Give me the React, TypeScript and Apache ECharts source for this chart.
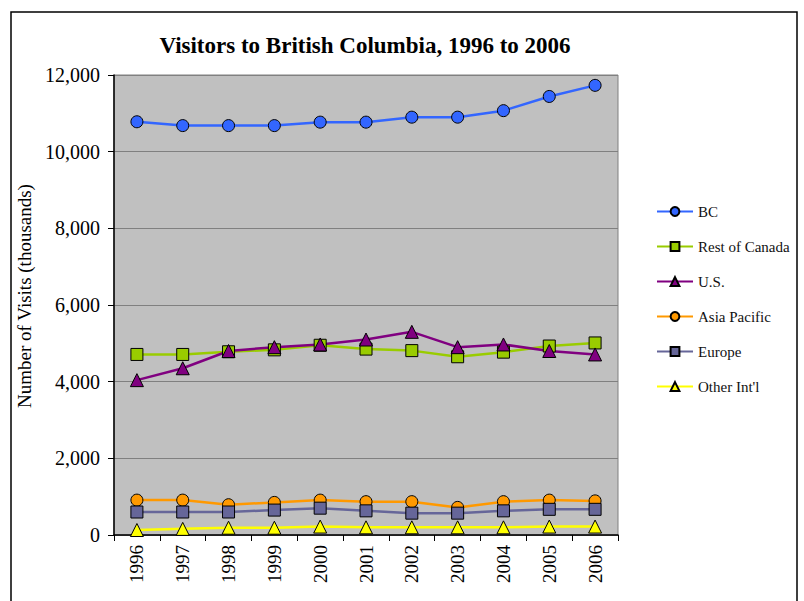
import React, { useEffect, useRef } from "react";
import * as echarts from "echarts";

const years = ["1996", "1997", "1998", "1999", "2000", "2001", "2002", "2003", "2004", "2005", "2006"];
const bc = [10780, 10680, 10680, 10680, 10770, 10770, 10900, 10900, 11070, 11440, 11730];
const restOfCanada = [4710, 4710, 4780, 4830, 4950, 4850, 4810, 4650, 4770, 4930, 5010];
const us = [4040, 4350, 4800, 4900, 4970, 5100, 5300, 4900, 4970, 4800, 4710];
const asiaPacific = [910, 910, 790, 850, 910, 870, 870, 720, 870, 910, 890];
const europe = [600, 600, 600, 650, 700, 630, 570, 570, 630, 670, 670];
const otherIntl = [130, 160, 190, 190, 220, 200, 200, 200, 200, 220, 220];

const FONT = "'Liberation Serif', 'Times New Roman', serif";

export default function App() {
  const ref = useRef<HTMLDivElement>(null);
  useEffect(() => {
    if (!ref.current) return;
    const chart = echarts.init(ref.current, undefined, { renderer: "svg" });
    const mk = (name: string, data: number[], color: string, symbol: string, size: number) => ({
      name,
      type: "line",
      data,
      symbol,
      symbolSize: size,
      showAllSymbol: true,
      lineStyle: { color, width: 2.5 },
      itemStyle: { color, borderColor: "#000", borderWidth: 1 },
      emphasis: { disabled: true },
    });
    chart.setOption({
      animation: false,
      backgroundColor: "#fff",
      title: {
        text: "Visitors to British Columbia, 1996 to 2006",
        left: 360,
        textAlign: "center",
        top: 29,
        textStyle: { fontFamily: FONT, fontWeight: "bold", fontSize: 23, color: "#000" },
      },
      graphic: [
        {
          type: "rect",
          shape: { x: 11, y: 12, width: 786, height: 640 },
          style: { fill: "none", stroke: "#000", lineWidth: 1.5 },
          silent: true,
        },
      ],
      legend: {
        orient: "vertical",
        left: 651,
        top: 199,
        itemWidth: 36,
        itemHeight: 11,
        itemGap: 20,
        textStyle: { fontFamily: FONT, fontSize: 15, color: "#111" },
        data: ["BC", "Rest of Canada", "U.S.", "Asia Pacific", "Europe", "Other Int'l"],
      },
      grid: { left: 114, right: 186, top: 75, bottom: 66, show: true, backgroundColor: "#C0C0C0", borderColor: "#808080", borderWidth: 1 },
      xAxis: {
        type: "category",
        data: years,
        boundaryGap: true,
        axisLine: { lineStyle: { color: "#000", width: 1.5 } },
        axisTick: { show: true, length: 6, lineStyle: { color: "#000" } },
        axisLabel: { rotate: 90, fontFamily: FONT, fontSize: 19, color: "#000", margin: 10 },
      },
      yAxis: {
        type: "value",
        min: 0,
        max: 12000,
        interval: 2000,
        name: "Number of Visits (thousands)",
        nameLocation: "middle",
        nameGap: 77,
        nameTextStyle: { fontFamily: FONT, fontSize: 19, color: "#000", padding: [0, 0, 0, 18] },
        axisLine: { show: true, lineStyle: { color: "#000", width: 1.5 } },
        axisTick: { show: true, length: 6, lineStyle: { color: "#000" } },
        axisLabel: {
          fontFamily: FONT,
          fontSize: 20,
          color: "#000",
          margin: 14,
          formatter: (v: number) => v.toLocaleString("en-US"),
        },
        splitLine: { show: true, lineStyle: { color: "#808080", width: 1 } },
      },
      series: [
        mk("BC", bc, "#3366FF", "circle", 12),
        mk("Rest of Canada", restOfCanada, "#99CC00", "rect", 12),
        mk("U.S.", us, "#800080", "triangle", 13),
        mk("Asia Pacific", asiaPacific, "#FF9900", "circle", 12),
        mk("Europe", europe, "#666699", "rect", 12),
        mk("Other Int'l", otherIntl, "#FFFF00", "triangle", 13),
      ],
    });
    return () => chart.dispose();
  }, []);
  return <div ref={ref} style={{ width: 804, height: 601, position: "absolute", left: 0, top: 0 }} />;
}
